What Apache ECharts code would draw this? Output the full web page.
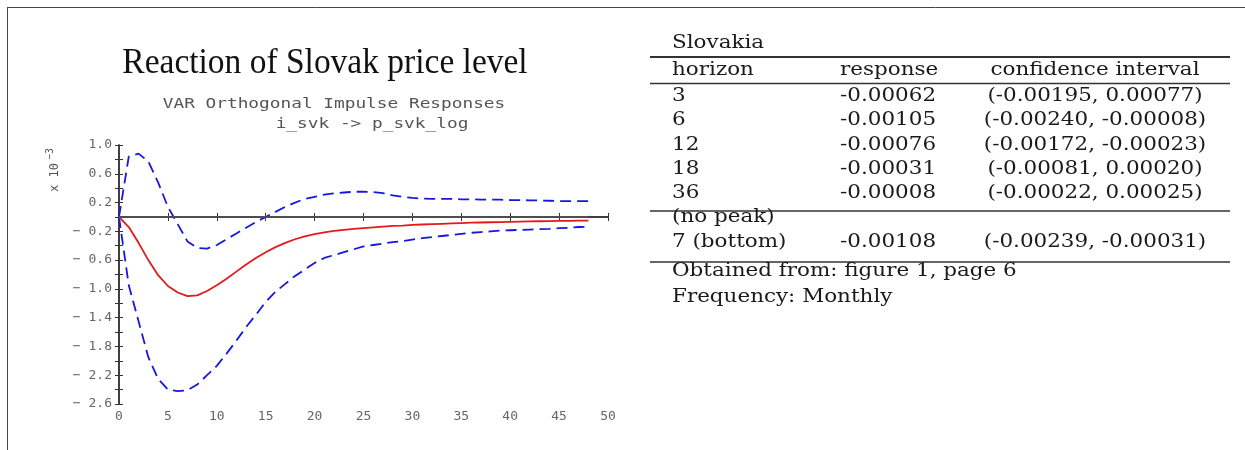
<!DOCTYPE html>
<html>
<head>
<meta charset="utf-8">
<script src="https://cdn.jsdelivr.net/npm/echarts@6/dist/echarts.min.js"></script>
<style>
  html, body { margin: 0; padding: 0; background: #fff; }
  #main { width: 1245px; height: 450px; }
</style>
</head>
<body>
<div id="main"></div>
<script>
// 脉冲响应 horizon 0..48
var horizons = [0, 1, 2, 3, 4, 5, 6, 7, 8, 9, 10, 11, 12, 13, 14, 15, 16, 17, 18, 19,
  20, 21, 22, 23, 24, 25, 26, 27, 28, 29, 30, 31, 32, 33, 34, 35, 36, 37, 38, 39,
  40, 41, 42, 43, 44, 45, 46, 47, 48];
var response = [0, -0.14, -0.36, -0.6, -0.81, -0.96, -1.05, -1.1, -1.09, -1.03,
  -0.95, -0.86, -0.76, -0.66, -0.57, -0.49, -0.42, -0.36, -0.31, -0.27,
  -0.24, -0.215, -0.195, -0.18, -0.165, -0.155, -0.145, -0.135, -0.125, -0.12,
  -0.11, -0.105, -0.1, -0.095, -0.09, -0.085, -0.08, -0.077, -0.074, -0.071,
  -0.068, -0.065, -0.062, -0.06, -0.058, -0.056, -0.054, -0.052, -0.05];
var upperBand = [0, 0.84, 0.88, 0.77, 0.48, 0.14, -0.1, -0.34, -0.43, -0.44,
  -0.39, -0.31, -0.23, -0.15, -0.07, 0, 0.07, 0.14, 0.2, 0.25,
  0.28, 0.31, 0.33, 0.34, 0.35, 0.35, 0.345, 0.33, 0.3, 0.28,
  0.265, 0.255, 0.25, 0.25, 0.25, 0.245, 0.245, 0.24, 0.24, 0.24,
  0.235, 0.235, 0.23, 0.23, 0.225, 0.22, 0.22, 0.22, 0.22];
var lowerBand = [0, -0.95, -1.45, -1.95, -2.25, -2.4, -2.42, -2.41, -2.33, -2.2,
  -2.07, -1.9, -1.72, -1.53, -1.36, -1.18, -1.04, -0.93, -0.82, -0.73,
  -0.64, -0.57, -0.53, -0.49, -0.45, -0.41, -0.39, -0.37, -0.35, -0.335,
  -0.315, -0.295, -0.28, -0.265, -0.25, -0.235, -0.22, -0.21, -0.2, -0.19,
  -0.185, -0.18, -0.175, -0.17, -0.165, -0.155, -0.15, -0.14, -0.135];

// 右侧表格
var tblHorizon = ["3", "6", "12", "18", "36"];
var tblResponse = ["-0.00062", "-0.00105", "-0.00076", "-0.00031", "-0.00008"];
var tblInterval = ["(-0.00195, 0.00077)", "(-0.00240, -0.00008)", "(-0.00172, -0.00023)",
  "(-0.00081, 0.00020)", "(-0.00022, 0.00025)"];
var peakRow = ["7 (bottom)", "-0.00108", "(-0.00239, -0.00031)"];

var myChart = echarts.init(document.getElementById("main"));

function pairs(ys) {
  return horizons.map(function (h, i) { return [h, ys[i]]; });
}

var monoFont = "DejaVu Sans Mono";
var serifFont = "DejaVu Serif";
var labelColor = "#666";
var axisColor = "#333";

function yLabel(v, idx) {
  if (idx % 2 !== 0) return "";
  var s = Math.abs(v).toFixed(1);
  return v < -0.01 ? "\u2212 " + s : s;
}

// 表格文字
function cell(text, x, y, align) {
  return {
    type: "text",
    x: x, y: y,
    scaleX: 1.13,
    style: {
      text: text,
      fontSize: 19,
      fontFamily: serifFont,
      fill: "#1a1a1a",
      align: align || "left", textAlign: align || "left",
      verticalAlign: "middle", textVerticalAlign: "middle"
    }
  };
}
function rule(y, w) {
  return {
    type: "line",
    shape: { x1: 650, y1: y, x2: 1230, y2: y },
    style: { stroke: "#333", lineWidth: w }
  };
}

var rowY = [96, 120.5, 145, 169, 193.5];
var tableEls = [
  cell("Slovakia", 672, 43.5),
  rule(57, 1.8),
  cell("horizon", 672, 70),
  cell("response", 840, 70),
  cell("confidence interval", 1095, 70, "center"),
  rule(83.5, 1.5)
];
for (var i = 0; i < tblHorizon.length; i++) {
  tableEls.push(cell(tblHorizon[i], 672, rowY[i]));
  tableEls.push(cell(tblResponse[i], 840, rowY[i]));
  tableEls.push(cell(tblInterval[i], 1095, rowY[i], "center"));
}
tableEls.push(rule(211, 1.3));
tableEls.push(cell("(no peak)", 672, 217.5));
tableEls.push(cell(peakRow[0], 672, 242));
tableEls.push(cell(peakRow[1], 840, 242));
tableEls.push(cell(peakRow[2], 1095, 242, "center"));
tableEls.push(rule(262, 1.3));
tableEls.push(cell("Obtained from: figure 1, page 6", 672, 271.5));
tableEls.push(cell("Frequency: Monthly", 672, 297));

var option = {
  animation: false,
  backgroundColor: "#fff",
  grid: { left: 119, right: 637, top: 145, bottom: 46, containLabel: false },
  xAxis: [
    {
      type: "value", min: 0, max: 50, interval: 5,
      axisLine: { lineStyle: { color: axisColor, width: 1.5 } },
      axisTick: { inside: true, length: 4, lineStyle: { color: axisColor } },
      splitLine: { show: false },
      axisLabel: { color: labelColor, fontFamily: monoFont, fontSize: 13, margin: 6 }
    },
    {
      type: "value", position: "top", min: 0, max: 50, interval: 5,
      axisLine: { lineStyle: { color: axisColor, width: 1.5 } },
      axisTick: { inside: true, length: 4, lineStyle: { color: axisColor } },
      splitLine: { show: false },
      axisLabel: { show: false }
    }
  ],
  yAxis: [
    {
      type: "value", min: -2.6, max: 1.0, interval: 0.2,
      axisLine: { show: true, lineStyle: { color: axisColor, width: 1.5 } },
      axisTick: { inside: true, length: 4, lineStyle: { color: axisColor } },
      splitLine: { show: false },
      axisLabel: { color: labelColor, fontFamily: monoFont, fontSize: 13, margin: 7, formatter: yLabel }
    },
    {
      type: "value", position: "right", min: -2.6, max: 1.0, interval: 0.2,
      axisLine: { show: true, lineStyle: { color: axisColor, width: 1.5 } },
      axisTick: { inside: true, length: 4, lineStyle: { color: axisColor } },
      splitLine: { show: false },
      axisLabel: { show: false }
    }
  ],
  series: [
    {
      type: "line",
      data: pairs(upperBand),
      showSymbol: false,
      lineStyle: { color: "#1717e0", width: 1.8, type: [11, 6] },
      z: 3
    },
    {
      type: "line",
      data: pairs(lowerBand),
      showSymbol: false,
      lineStyle: { color: "#1717e0", width: 1.8, type: [11, 6] },
      z: 3
    },
    {
      type: "line",
      data: pairs(response),
      showSymbol: false,
      lineStyle: { color: "#e31a1a", width: 1.8 },
      z: 4,
      markLine: {
        silent: true,
        symbol: "none",
        label: { show: false },
        lineStyle: { color: "#555", width: 1.5, type: "solid" },
        data: [[{ coord: [0, 0] }, { coord: [48, 0] }]]
      }
    }
  ],
  graphic: [
    // 外框
    { type: "line", shape: { x1: 7, y1: 7.5, x2: 1245, y2: 7.5 }, style: { stroke: "#444", lineWidth: 1 } },
    { type: "line", shape: { x1: 7.5, y1: 7, x2: 7.5, y2: 450 }, style: { stroke: "#444", lineWidth: 1 } },
    {
      type: "text", x: 325, y: 64, scaleX: 0.93,
      style: {
        text: "Reaction of Slovak price level", fontSize: 36, fontFamily: "Liberation Serif",
        fill: "#111", align: "center", textAlign: "center", verticalAlign: "middle", textVerticalAlign: "middle"
      }
    },
    {
      type: "text", x: 334, y: 104, scaleX: 1.27,
      style: {
        text: "VAR Orthogonal Impulse Responses", fontSize: 14, fontFamily: monoFont,
        fill: "#555", align: "center", textAlign: "center", verticalAlign: "middle", textVerticalAlign: "middle"
      }
    },
    {
      type: "text", x: 372, y: 124, scaleX: 1.27,
      style: {
        text: "i_svk -> p_svk_log", fontSize: 14, fontFamily: monoFont,
        fill: "#555", align: "center", textAlign: "center", verticalAlign: "middle", textVerticalAlign: "middle"
      }
    },
    {
      type: "group", x: 55, y: 172, rotation: Math.PI / 2,
      children: [
        {
          type: "text", x: -20, y: 0,
          style: { text: "x 10", fontSize: 12, fontFamily: monoFont, fill: "#555",
            align: "left", textAlign: "left", verticalAlign: "middle", textVerticalAlign: "middle" }
        },
        {
          type: "text", x: 12, y: -5,
          style: { text: "\u22123", fontSize: 10, fontFamily: monoFont, fill: "#555",
            align: "left", textAlign: "left", verticalAlign: "middle", textVerticalAlign: "middle" }
        }
      ]
    }
  ].concat(tableEls)
};

myChart.setOption(option);
</script>
</body>
</html>
